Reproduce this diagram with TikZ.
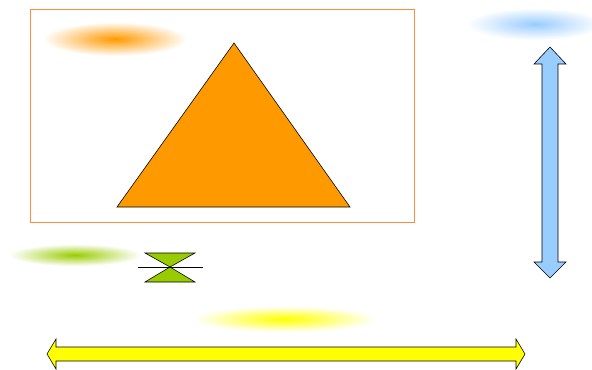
\documentclass[tikz,border=0pt]{standalone}
\usepackage{tikz}
\usepackage{xcolor}
\definecolor{shapeorange}{RGB}{255,153,0}
\definecolor{frameorange}{RGB}{255,140,60}
\definecolor{shapeblue}{RGB}{153,204,255}
\definecolor{shapegreen}{RGB}{153,204,0}
\definecolor{shapeyellow}{RGB}{255,255,0}

\begin{document}
\begin{tikzpicture}[x=0.03cm, y=-0.03cm,
    glow/.style={shading=radial, inner color=#1, outer color=white, draw=none},
    solid/.style={draw=black, line width=0.5pt, fill=#1, line join=miter}
  ]
    \useasboundingbox (0,0) rectangle (592,370);

    % Soft spots
    \shade[glow=shapeorange] (115,39) ellipse [x radius=72, y radius=17];
    \shade[glow=shapeblue]   (535,24) ellipse [x radius=68, y radius=16];
    \shade[glow=shapegreen]  (75,255) ellipse [x radius=66, y radius=11];
    \shade[glow=shapeyellow] (285,319) ellipse [x radius=92, y radius=13];

    % Frame and triangle
    \draw[frameorange, line width=0.6pt] (30,9) rectangle (414,222);
    \draw[solid=shapeorange] (234,43) -- (350,207) -- (117,207) -- cycle;

    % Hourglass
    \draw[solid=shapegreen] (145,253) -- (195,253) -- (170,267) -- cycle;
    \draw[solid=shapegreen] (170,267) -- (195,282) -- (145,282) -- cycle;
    \draw[black, line width=0.5pt] (138,267) -- (203,267);

    % Vertical double arrow
    \draw[solid=shapeblue] (550,47) -- (566,64) -- (558,64) -- (558,262)
      -- (566,262) -- (550,278) -- (534,262) -- (542,262) -- (542,64)
      -- (534,64) -- cycle;

    % Horizontal double arrow
    \draw[solid=shapeyellow] (47,354) -- (56,339) -- (56,347) -- (516,347)
      -- (516,339) -- (525,354) -- (516,369) -- (516,361) -- (56,361)
      -- (56,369) -- cycle;

  \end{tikzpicture}
\end{document}
